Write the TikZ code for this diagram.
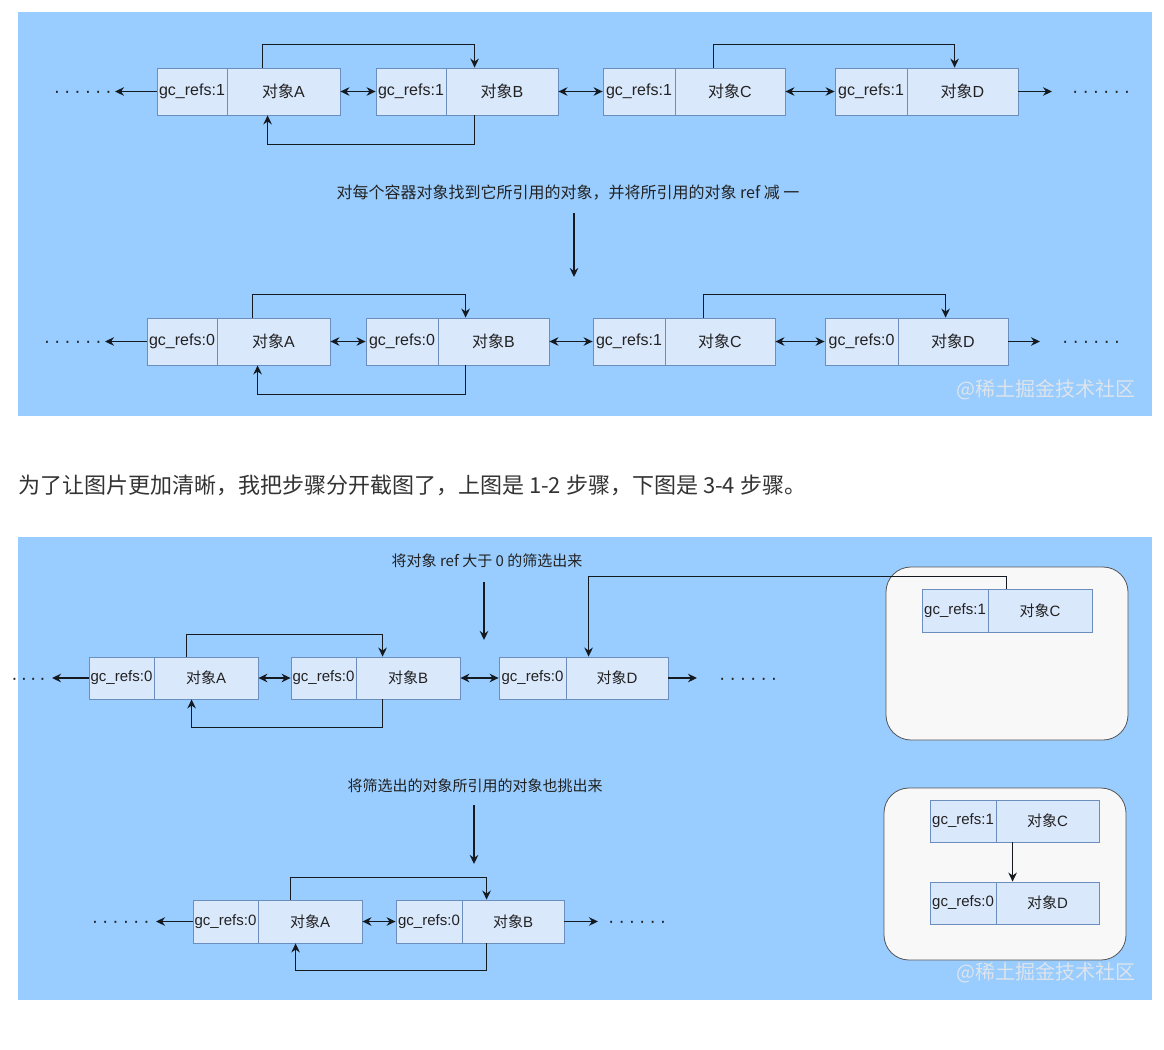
\documentclass[tikz,border=0pt]{standalone}
\usepackage{fontspec}
\setmainfont{Liberation Sans}
\newfontfamily\cjk{Noto Sans CJK SC}
\usetikzlibrary{arrows.meta,calc}
\definecolor{panelblue}{HTML}{99CCFF}
\definecolor{cellfill}{HTML}{DAE8FC}
\definecolor{cellline}{HTML}{6C8EBF}
\definecolor{wmark}{HTML}{DDE4EB}
\definecolor{boxline}{HTML}{555555}
\definecolor{boxfill}{HTML}{F8F8F8}
\definecolor{linkcol}{HTML}{151A20}
\definecolor{txtcol}{HTML}{222222}
\newcommand\sixdots{·\kern4pt·\kern4pt·\kern4pt·\kern4pt·\kern4pt·}
\newcommand\fourdots{·\kern3pt·\kern3pt·\kern3pt·}
% name, xleft, xmid, xright, ytop, ybottom, gc value, letter, font size
\newcommand\mkobj[9]{%
  \node[cellbox, minimum width={#3-#2}, minimum height={#6-#5}, font=\fontsize{#9}{#9}\selectfont]
    (#1g) at ({(#2+#3)/2},{(#5+#6)/2}) {gc\_refs:#7};
  \node[cellbox, minimum width={#4-#3}, minimum height={#6-#5}, font=\fontsize{#9}{#9}\selectfont]
    (#1o) at ({(#3+#4)/2},{(#5+#6)/2}) {{\cjk 对象}#8};
}
\tikzset{
  cellbox/.style={draw=cellline, fill=cellfill, inner sep=0pt, line width=0.8pt, text=txtcol},
  link/.style={draw=linkcol, line width=1.6pt},
  >={Stealth[length=9pt,width=8.5pt]},
  capt/.style={font=\cjk\fontsize{16}{16}\selectfont, text=txtcol, inner sep=0pt},
  dotsnode/.style={font=\fontsize{19}{19}\selectfont, text=txtcol, inner sep=0pt},
  wmk/.style={font=\cjk\fontsize{20}{20}\selectfont, text=wmark, inner sep=0pt, anchor=east},
  container/.style={draw=boxline, fill=boxfill, rounded corners=25pt, line width=0.8pt, inner sep=0pt},
}
\begin{document}
\begin{tikzpicture}[x=1pt,y=-1pt]
\useasboundingbox (0,0) rectangle (1164,1049);
\fill[white] (0,0) rectangle (1164,1049);
\fill[panelblue] (18,12) rectangle (1152,416);
\fill[panelblue] (18,537) rectangle (1152,1000);

% ---------------- Row 1 ----------------
\mkobj{a1}{157}{227}{340}{68}{115}{1}{A}{16}
\mkobj{b1}{376}{446}{558}{68}{115}{1}{B}{16}
\mkobj{c1}{603}{675}{785}{68}{115}{1}{C}{16}
\mkobj{d1}{835}{907}{1018}{68}{115}{1}{D}{16}
\coordinate (l1) at (115,91.5);
\coordinate (r1) at (1052,91.5);
\node[dotsnode, anchor=base east] (dl1) at (112,97.5) {\sixdots};
\node[dotsnode, anchor=base west] (dr1) at (1072,97.5) {\sixdots};
\draw[link,->] (a1g.west) -- (l1);
\draw[link,<->] (a1o.east) -- (b1g.west);
\draw[link,<->] (b1o.east) -- (c1g.west);
\draw[link,<->] (c1o.east) -- (d1g.west);
\draw[link,->] (d1o.east) -- (r1);
\draw[link,->] ($(a1o.north west)+(36,0)$) -- ++(0,-23) -| ($(b1o.north west)+(29,0)$);
\draw[link,->] ($(b1o.south west)+(29,0)$) -- ++(0,29) -| ($(a1o.south west)+(41,0)$);
\draw[link,->] ($(c1o.north west)+(39,0)$) -- ++(0,-23) -| ($(d1o.north west)+(48,0)$);

\node[capt] (cap1) at (568,193) {对每个容器对象找到它所引用的对象，并将所引用的对象 ref 减 一};
\coordinate (s1) at (574,213);
\coordinate (e1) at (574,277);
\draw[link,->] (s1) -- (e1);

% ---------------- Row 2 ----------------
\mkobj{a2}{147}{217}{330}{318}{365}{0}{A}{16}
\mkobj{b2}{366}{438}{549}{318}{365}{0}{B}{16}
\mkobj{c2}{593}{665}{775}{318}{365}{1}{C}{16}
\mkobj{d2}{825}{898}{1008}{318}{365}{0}{D}{16}
\coordinate (l2) at (105,341.5);
\coordinate (r2) at (1040,341.5);
\node[dotsnode, anchor=base east] (dl2) at (102,347.5) {\sixdots};
\node[dotsnode, anchor=base west] (dr2) at (1062,347.5) {\sixdots};
\draw[link,->] (a2g.west) -- (l2);
\draw[link,<->] (a2o.east) -- (b2g.west);
\draw[link,<->] (b2o.east) -- (c2g.west);
\draw[link,<->] (c2o.east) -- (d2g.west);
\draw[link,->] (d2o.east) -- (r2);
\draw[link,->] ($(a2o.north west)+(36,0)$) -- ++(0,-23) -| ($(b2o.north west)+(28,0)$);
\draw[link,->] ($(b2o.south west)+(28,0)$) -- ++(0,29) -| ($(a2o.south west)+(41,0)$);
\draw[link,->] ($(c2o.north west)+(39,0)$) -- ++(0,-23) -| ($(d2o.north west)+(48,0)$);
\node[wmk] (wm1) at (1136,390) {@稀土掘金技术社区};

% ---------------- Middle line ----------------
\node[font=\cjk\fontsize{22}{22}\selectfont, text=black!80, anchor=west, inner sep=0pt] (mid) at (18,485)
  {为了让图片更加清晰，我把步骤分开截图了，上图是 1-2 步骤，下图是 3-4 步骤。};

% ---------------- Row 3 ----------------
\node[capt, font=\cjk\fontsize{15}{15}\selectfont] (cap2) at (487,561) {将对象 ref 大于 0 的筛选出来};
\coordinate (s2) at (484,582);
\coordinate (e2) at (484,640);
\draw[link,->] (s2) -- (e2);

\node[container, minimum width=242, minimum height=173] (g1) at (1007,653.5) {};
\mkobj{a3}{89}{154}{258}{657}{699}{0}{A}{15}
\mkobj{b3}{291}{356}{460}{657}{699}{0}{B}{15}
\mkobj{d3}{499}{566}{668}{657}{699}{0}{D}{15}
\mkobj{c3}{922}{988}{1092}{589}{632}{1}{C}{15}
\coordinate (l3) at (52,678);
\coordinate (r3) at (697,678);
\node[dotsnode, anchor=base east] (dl3) at (46,684) {\fourdots};
\node[dotsnode, anchor=base west] (dr3) at (719,684) {\sixdots};
\draw[link,->] (a3g.west) -- (l3);
\draw[link,<->] (a3o.east) -- (b3g.west);
\draw[link,<->] (b3o.east) -- (d3g.west);
\draw[link,->] (d3o.east) -- (r3);
\draw[link,->] ($(a3o.north west)+(33,0)$) -- ++(0,-22) -| ($(b3o.north west)+(27,0)$);
\draw[link,->] ($(b3o.south west)+(27,0)$) -- ++(0,28) -| ($(a3o.south west)+(38,0)$);
\draw[link,->] ($(c3o.north west)+(19,0)$) -- ++(0,-12) -| ($(d3o.north west)+(23,0)$);

% ---------------- Row 4 ----------------
\node[capt, font=\cjk\fontsize{15}{15}\selectfont] (cap3) at (475,786) {将筛选出的对象所引用的对象也挑出来};
\coordinate (s3) at (474,805);
\coordinate (e3) at (474,864);
\draw[link,->] (s3) -- (e3);

\node[container, minimum width=242, minimum height=172] (g2) at (1005,874) {};
\mkobj{a4}{193}{258}{362}{900}{943}{0}{A}{15}
\mkobj{b4}{396}{462}{564}{900}{943}{0}{B}{15}
\mkobj{c4}{930}{996}{1099}{800}{842}{1}{C}{15}
\mkobj{d4}{930}{996}{1099}{882}{924}{0}{D}{15}
\coordinate (l4) at (156,921.5);
\coordinate (r4) at (598,921.5);
\node[dotsnode, anchor=base east] (dl4) at (150,927.5) {\sixdots};
\node[dotsnode, anchor=base west] (dr4) at (608,927.5) {\sixdots};
\draw[link,->] (a4g.west) -- (l4);
\draw[link,<->] (a4o.east) -- (b4g.west);
\draw[link,->] (b4o.east) -- (r4);
\draw[link,->] ($(a4o.north west)+(33,0)$) -- ++(0,-22) -| ($(b4o.north west)+(25,0)$);
\draw[link,->] ($(b4o.south west)+(25,0)$) -- ++(0,27) -| ($(a4o.south west)+(38,0)$);
\draw[link,->] ($(c4o.south west)+(17,0)$) -- ($(d4o.north west)+(17,0)$);
\node[wmk] (wm2) at (1136,973) {@稀土掘金技术社区};
\end{tikzpicture}
\end{document}
